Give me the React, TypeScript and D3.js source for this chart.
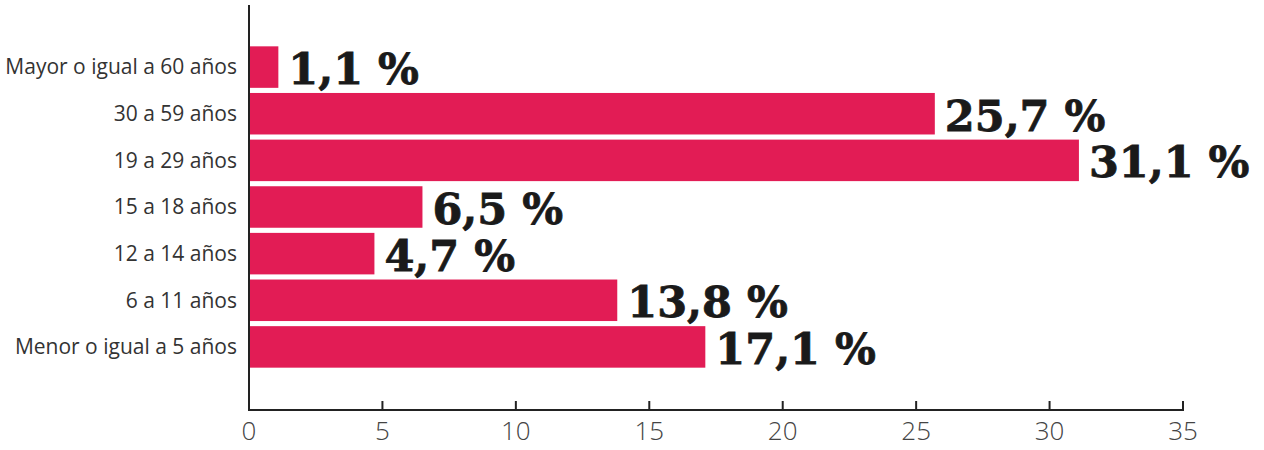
import React from "react";
import * as d3 from "d3";

const categories = [
  "Mayor o igual a 60 años",
  "30 a 59 años",
  "19 a 29 años",
  "15 a 18 años",
  "12 a 14 años",
  "6 a 11 años",
  "Menor o igual a 5 años",
];
const values = [1.1, 25.7, 31.1, 6.5, 4.7, 13.8, 17.1];
const valueLabels = ["1,1 %", "25,7 %", "31,1 %", "6,5 %", "4,7 %", "13,8 %", "17,1 %"];
const ticks = [0, 5, 10, 15, 20, 25, 30, 35];

export default function App() {
  const W = 1264;
  const H = 450;
  const x0 = 249;
  const axisY = 410;
  const x = d3.scaleLinear().domain([0, 35]).range([x0, 1183]);
  const y = d3
    .scaleBand<string>()
    .domain(categories)
    .range([44, 370])
    .paddingInner(0.11)
    .paddingOuter(0.05);

  return (
    <svg
      width={W}
      height={H}
      style={{ position: "absolute", left: 0, top: 0, background: "#fff" }}
    >
      {categories.map((c, i) => {
        const yy = y(c)!;
        const bw = y.bandwidth();
        return (
          <g key={c}>
            <rect x={x0} y={yy} width={x(values[i]) - x0} height={bw} fill="#E21C55" />
            <text
              x={237}
              y={yy + bw / 2}
              dy="0.35em"
              textAnchor="end"
              fontFamily="'Open Sans', sans-serif"
              fontSize={21}
              fill="#333"
            >
              {c}
            </text>
            <text
              x={x(values[i]) + 10}
              y={yy + bw / 2 + 17}
              fontFamily="'DejaVu Serif', serif"
              fontWeight={700}
              fontSize={43}
              fill="#1a1a1a"
              stroke="#1a1a1a"
              strokeWidth={0.8}
            >
              {valueLabels[i]}
            </text>
          </g>
        );
      })}
      <line x1={x0} x2={x0} y1={5} y2={axisY + 1} stroke="#222" strokeWidth={2} />
      <line x1={x0} x2={x(35) + 1} y1={axisY} y2={axisY} stroke="#222" strokeWidth={2} />
      {ticks.map((t) => (
        <g key={t}>
          <line x1={x(t)} x2={x(t)} y1={axisY - 9} y2={axisY} stroke="#222" strokeWidth={2} />
          <text
            x={x(t)}
            y={axisY + 21}
            dy="0.35em"
            textAnchor="middle"
            fontFamily="'Open Sans', sans-serif"
            fontWeight={300}
            fontSize={26}
            fill="#444"
          >
            {t}
          </text>
        </g>
      ))}
    </svg>
  );
}
